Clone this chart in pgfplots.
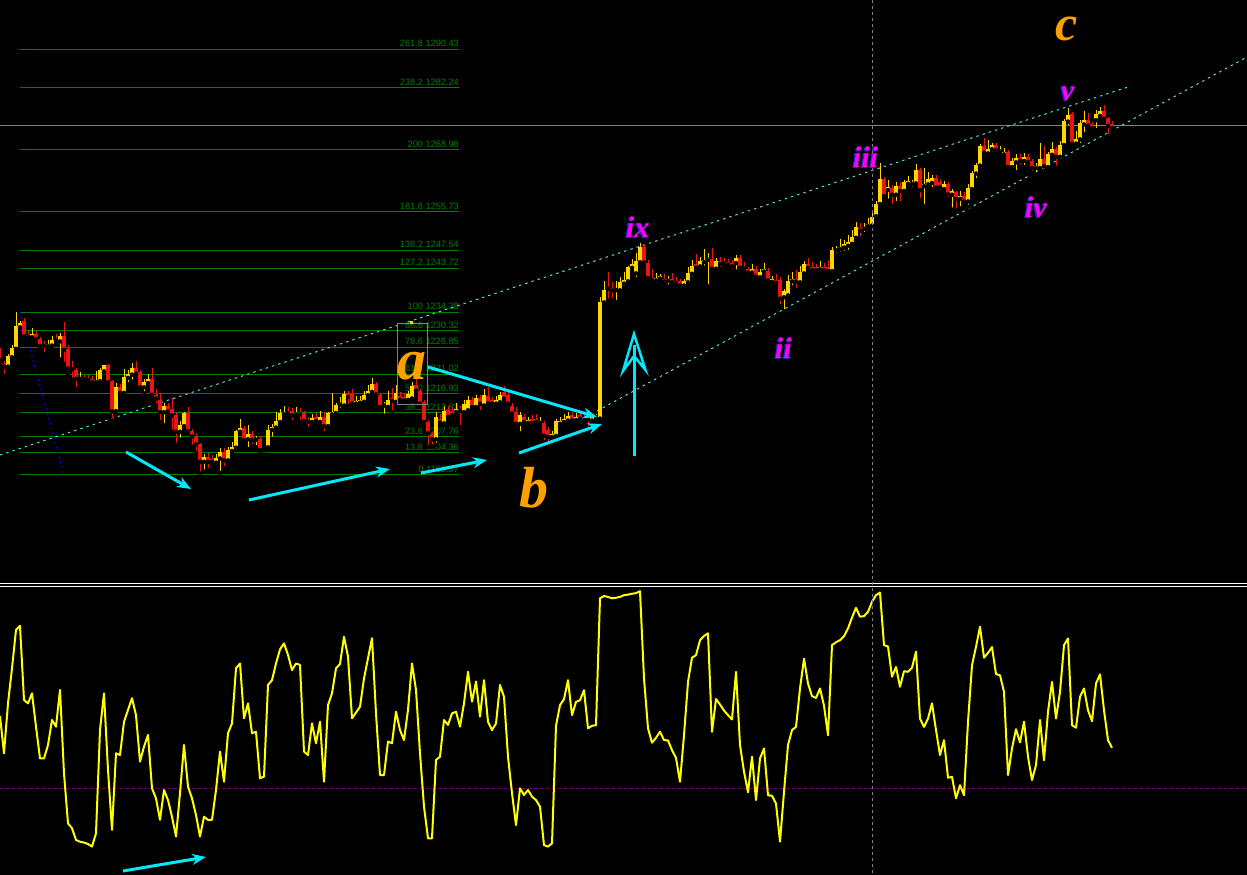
\documentclass[border=0pt]{standalone}
\usepackage{fontspec}
\setmainfont{Liberation Sans}
\newfontfamily\wavefont{Liberation Serif}
\usepackage{pgfplots}
\pgfplotsset{compat=1.18}
\usepackage{pgfplotstable}
\usetikzlibrary{arrows.meta}

\definecolor{fibg}{RGB}{0,128,0}
\definecolor{candY}{RGB}{255,215,0}
\definecolor{candR}{RGB}{235,20,20}
\definecolor{chan}{RGB}{90,220,215}
\definecolor{arr}{RGB}{0,232,250}
\definecolor{wave}{RGB}{255,0,255}
\definecolor{waveS}{RGB}{40,40,200}
\definecolor{orng}{RGB}{255,160,0}
\definecolor{oscY}{RGB}{255,255,0}
\definecolor{lvl}{RGB}{110,0,110}
\definecolor{gry}{RGB}{128,128,128}

\pgfplotstableread{
i o h l c
0 1224.4 1226.7 1223.0 1224.0
1 1223.3 1224.0 1220.7 1222.7
2 1222.7 1225.5 1221.9 1224.9
3 1224.7 1227.3 1224.1 1226.6
4 1226.5 1234.3 1226.3 1231.3
5 1231.1 1232.5 1230.8 1232.0
6 1232.4 1233.0 1228.5 1229.2
7 1229.4 1230.2 1228.4 1229.0
8 1229.0 1231.0 1228.8 1229.7
9 1229.7 1230.4 1227.6 1228.6
10 1228.6 1229.1 1226.5 1227.1
11 1227.3 1228.1 1225.4 1227.1
12 1227.1 1228.3 1226.4 1227.6
13 1227.2 1229.3 1226.5 1228.3
14 1228.6 1229.7 1227.4 1228.3
15 1228.1 1229.8 1224.2 1229.3
16 1229.3 1232.2 1223.3 1226.3
17 1226.5 1227.3 1221.3 1222.3
18 1222.5 1223.8 1219.9 1222.1
19 1222.0 1222.5 1217.9 1220.1
20 1220.1 1221.5 1219.3 1220.5
21 1220.3 1221.0 1219.3 1219.9
22 1220.1 1220.9 1219.2 1219.8
23 1220.0 1220.7 1219.0 1219.4
24 1219.4 1221.7 1219.2 1219.8
25 1219.6 1222.5 1219.3 1221.9
26 1221.7 1223.0 1221.4 1222.95
27 1222.95 1223.2 1219.0 1219.4
28 1219.6 1219.9 1211.2 1213.2
29 1213.2 1219.3 1212.4 1218.3
30 1218.3 1218.9 1216.7 1217.1
31 1217.1 1222.1 1216.9 1220.5
32 1220.3 1222.0 1219.0 1221.2
33 1221.0 1223.4 1219.5 1222.4
34 1222.3 1223.8 1220.8 1221.2
35 1221.5 1222.0 1217.8 1218.3
36 1218.3 1220.1 1217.0 1219.4
37 1219.2 1221.1 1218.4 1220.1
38 1220.0 1222.4 1215.8 1216.7
39 1216.7 1217.9 1214.5 1215.9
40 1215.6 1217.0 1210.9 1213.0
41 1213.0 1215.0 1210.2 1214.2
42 1214.2 1214.9 1212.5 1213.2
43 1213.6 1216.0 1208.8 1212.3
44 1212.3 1213.0 1206.0 1208.8
45 1208.8 1211.0 1207.1 1210.2
46 1210.0 1213.0 1209.5 1212.7
47 1212.7 1214.0 1208.5 1208.9
48 1209.0 1209.4 1205.6 1207.8
49 1207.7 1208.5 1204.3 1206.1
50 1206.1 1206.5 1199.9 1202.4
51 1202.4 1204.0 1200.3 1203.4
52 1203.4 1204.3 1200.6 1202.4
53 1202.9 1203.9 1201.5 1202.4
54 1202.2 1204.1 1201.3 1203.1
55 1203.1 1205.4 1200.0 1204.5
56 1204.5 1205.3 1201.0 1202.7
57 1202.7 1205.5 1202.4 1204.9
58 1204.7 1206.7 1204.4 1205.6
59 1205.4 1209.2 1205.0 1208.9
60 1208.8 1211.5 1208.5 1209.5
61 1209.5 1210.0 1206.3 1207.0
62 1207.2 1210.2 1205.1 1208.3
63 1208.4 1209.0 1205.7 1207.0
64 1207.1 1207.9 1205.5 1207.5
65 1207.3 1207.8 1204.3 1204.9
66 1205.1 1205.2 1204.8 1204.9
67 1205.5 1210.3 1205.2 1209.2
68 1209.2 1210.5 1207.3 1209.8
69 1209.7 1213.0 1209.2 1211.1
70 1210.9 1213.6 1210.4 1212.7
71 1212.5 1214.3 1212.4 1212.9
72 1213.0 1214.0 1212.0 1212.7
73 1213.2 1213.9 1210.8 1212.3
74 1212.5 1214.0 1212.0 1212.9
75 1212.9 1213.9 1210.9 1212.5
76 1212.8 1213.2 1210.3 1211.1
77 1211.4 1212.0 1209.4 1210.9
78 1210.9 1212.5 1210.0 1211.8
79 1212.0 1212.8 1210.6 1211.1
80 1210.9 1213.3 1210.4 1212.0
81 1212.0 1213.0 1208.5 1210.0
82 1210.0 1213.0 1209.8 1212.7
83 1212.5 1217.0 1212.2 1213.0
84 1212.8 1215.0 1212.0 1214.6
85 1214.6 1216.3 1213.5 1214.9
86 1214.4 1217.4 1214.0 1216.8
87 1216.8 1217.6 1214.3 1216.2
88 1216.8 1218.0 1214.5 1214.8
89 1214.8 1216.5 1214.3 1215.3
90 1215.0 1216.5 1214.5 1215.5
91 1215.2 1217.5 1214.9 1216.6
92 1216.6 1218.7 1216.2 1217.5
93 1217.3 1220.2 1217.0 1218.9
94 1218.9 1219.4 1216.4 1216.8
95 1216.6 1217.0 1213.6 1214.1
96 1214.4 1215.2 1212.2 1214.8
97 1214.1 1217.6 1213.7 1215.5
98 1216.1 1218.1 1213.0 1215.4
99 1215.2 1218.7 1214.8 1217.1
100 1216.35 1217.2 1214.8 1215.65
101 1216.2 1217.0 1214.9 1215.5
102 1215.6 1217.5 1215.2 1216.8
103 1215.9 1219.5 1215.5 1218.6
104 1218.7 1220.6 1216.8 1217.6
105 1217.6 1218.0 1214.1 1214.8
106 1215.2 1215.6 1210.2 1210.9
107 1210.9 1211.3 1205.6 1208.5
108 1208.3 1208.7 1205.6 1207.2
109 1207.2 1213.0 1206.0 1212.0
110 1211.6 1212.5 1210.0 1210.8
111 1210.6 1214.2 1210.2 1213.3
112 1213.4 1214.2 1211.2 1212.0
113 1213.2 1214.0 1211.5 1212.3
114 1213.0 1215.0 1212.5 1213.7
115 1213.7 1214.3 1209.8 1213.3
116 1213.0 1215.5 1212.5 1214.8
117 1213.4 1216.5 1213.0 1215.6
118 1215.5 1216.3 1213.5 1214.1
119 1214.1 1216.7 1213.5 1215.9
120 1215.9 1216.7 1213.0 1214.8
121 1214.4 1218.0 1213.9 1216.6
122 1216.35 1218.3 1214.2 1214.9
123 1215.5 1216.2 1214.3 1214.8
124 1214.8 1216.5 1214.2 1215.5
125 1215.1 1217.2 1214.5 1216.6
126 1217.3 1218.6 1215.1 1215.9
127 1216.6 1217.3 1214.0 1214.8
128 1214.4 1215.0 1212.0 1212.7
129 1213.0 1214.0 1209.8 1210.5
130 1210.5 1213.0 1208.5 1212.3
131 1211.9 1212.6 1210.0 1210.9
132 1210.7 1212.0 1210.0 1211.4
133 1211.6 1212.3 1209.9 1210.7
134 1211.6 1212.5 1210.3 1210.9
135 1210.7 1212.0 1210.0 1211.2
136 1210.7 1211.2 1206.6 1208.0
137 1209.1 1209.8 1206.2 1207.7
138 1207.7 1209.0 1206.8 1208.4
139 1207.9 1211.6 1207.6 1211.0
140 1210.5 1212.0 1210.0 1211.1
141 1210.9 1212.6 1210.4 1211.6
142 1211.2 1213.0 1210.7 1212.1
143 1212.3 1213.0 1210.5 1211.2
144 1211.3 1212.8 1210.6 1212.0
145 1212.3 1212.9 1211.0 1211.6
146 1212.0 1212.6 1210.7 1211.5
147 1211.8 1212.4 1209.5 1211.5
148 1211.2 1212.5 1210.8 1211.9
149 1211.9 1212.6 1211.3 1212.1
150 1211.6 1237.5 1211.0 1236.4
151 1236.4 1241.0 1236.0 1239.1
152 1239.8 1243.0 1236.8 1239.3
153 1239.4 1240.8 1236.8 1239.0
154 1239.0 1241.0 1236.5 1239.2
155 1239.0 1241.9 1238.2 1240.7
156 1240.4 1243.0 1239.5 1241.2
157 1240.9 1244.2 1240.5 1243.9
158 1243.8 1245.6 1243.0 1244.6
159 1242.6 1247.0 1241.4 1245.2
160 1245.0 1249.1 1244.4 1248.2
161 1248.2 1248.8 1244.0 1244.9
162 1244.8 1245.5 1240.9 1241.6
163 1241.7 1243.5 1240.5 1241.2
164 1241.1 1242.6 1240.2 1241.6
165 1241.5 1242.5 1240.8 1242.0
166 1241.5 1242.4 1240.4 1240.9
167 1241.0 1242.0 1239.8 1241.4
168 1241.4 1242.6 1240.1 1240.7
169 1240.9 1241.9 1239.8 1240.5
170 1240.9 1241.4 1239.0 1240.0
171 1240.0 1241.5 1239.5 1240.9
172 1240.7 1244.0 1240.3 1242.6
173 1242.5 1245.5 1241.5 1244.1
174 1244.6 1246.7 1243.1 1243.8
175 1244.1 1246.1 1243.3 1245.2
176 1245.0 1247.7 1243.8 1245.5
177 1245.5 1247.0 1239.8 1245.9
178 1245.7 1248.0 1243.0 1243.6
179 1243.6 1245.8 1243.0 1245.2
180 1245.2 1246.0 1243.5 1244.6
181 1245.1 1245.8 1244.0 1244.7
182 1245.0 1245.6 1243.9 1244.5
183 1244.8 1245.5 1243.0 1244.1
184 1244.8 1246.6 1243.0 1245.9
185 1245.9 1246.5 1243.0 1243.8
186 1244.0 1245.0 1242.8 1243.6
187 1243.5 1244.0 1241.8 1242.8
188 1242.8 1244.5 1242.3 1243.6
189 1243.6 1244.2 1241.5 1241.9
190 1241.8 1243.5 1241.0 1243.0
191 1243.0 1244.8 1242.0 1243.5
192 1243.2 1243.7 1240.6 1241.1
193 1240.8 1242.0 1240.0 1241.3
194 1241.1 1242.5 1240.0 1240.6
195 1241.1 1241.8 1235.6 1237.2
196 1237.5 1239.3 1234.5 1238.8
197 1237.9 1242.2 1237.2 1240.9
198 1240.9 1243.0 1239.6 1241.3
199 1241.3 1243.4 1239.0 1240.8
200 1240.7 1244.1 1240.0 1242.8
201 1242.6 1245.2 1241.7 1244.7
202 1244.7 1245.9 1242.9 1243.8
203 1244.0 1245.0 1242.3 1243.3
204 1243.9 1244.6 1242.5 1243.3
205 1243.5 1245.3 1243.0 1244.0
206 1244.0 1244.9 1242.6 1243.3
207 1244.0 1245.5 1242.3 1243.1
208 1243.1 1248.2 1242.5 1247.6
209 1247.5 1248.5 1246.5 1247.8
210 1247.8 1250.0 1246.8 1248.3
211 1248.1 1249.8 1247.0 1248.8
212 1248.5 1250.8 1247.2 1249.4
213 1248.9 1251.8 1248.0 1250.4
214 1250.2 1253.5 1249.6 1252.4
215 1252.3 1253.4 1250.1 1251.7
216 1252.1 1253.4 1251.0 1252.6
217 1252.7 1254.5 1252.0 1253.2
218 1252.8 1255.7 1252.4 1254.7
219 1254.8 1258.0 1254.4 1257.5
220 1257.4 1266.1 1257.0 1262.7
221 1262.7 1263.1 1258.7 1259.1
222 1260.4 1262.5 1258.1 1261.1
223 1260.9 1261.5 1257.0 1259.4
224 1259.4 1262.2 1257.6 1261.3
225 1261.3 1262.2 1257.5 1260.2
226 1260.2 1262.5 1259.3 1262.0
227 1261.7 1263.4 1260.8 1262.4
228 1261.7 1262.6 1260.7 1262.1
229 1261.8 1266.0 1261.5 1264.6
230 1264.6 1265.0 1258.2 1260.4
231 1261.2 1265.0 1256.9 1261.6
232 1261.6 1264.2 1260.8 1262.7
233 1261.9 1263.5 1260.6 1263.0
234 1262.9 1263.5 1260.0 1260.9
235 1262.0 1262.8 1260.0 1261.0
236 1260.6 1262.3 1259.9 1261.7
237 1261.7 1262.0 1258.4 1259.5
238 1259.4 1260.6 1256.2 1260.1
239 1259.9 1260.2 1256.0 1258.5
240 1258.5 1260.1 1256.5 1259.2
241 1259.2 1260.0 1257.2 1257.9
242 1257.95 1261.6 1256.8 1260.8
243 1260.6 1264.5 1259.7 1264.1
244 1263.9 1266.2 1262.5 1265.8
245 1265.6 1270.2 1265.0 1269.8
246 1269.8 1271.5 1267.5 1268.4
247 1268.2 1271.0 1267.6 1269.1
248 1269.1 1270.5 1268.2 1270.0
249 1270.0 1270.5 1268.0 1268.9
250 1268.6 1269.8 1268.0 1268.9
251 1268.0 1269.4 1267.5 1268.6
252 1268.6 1269.0 1264.9 1265.3
253 1265.3 1267.2 1264.6 1266.5
254 1266.3 1268.1 1264.2 1267.3
255 1267.3 1268.0 1265.4 1266.6
256 1266.6 1268.2 1265.3 1267.4
257 1267.4 1268.0 1265.5 1266.3
258 1266.5 1267.0 1264.0 1265.1
259 1265.1 1266.1 1263.8 1265.5
260 1265.1 1270.5 1264.5 1267.0
261 1267.0 1269.8 1264.5 1265.5
262 1265.3 1268.4 1264.8 1268.0
263 1267.9 1270.6 1267.5 1269.1
264 1269.1 1269.5 1265.1 1267.5
265 1267.5 1270.8 1266.6 1270.0
266 1270.0 1275.5 1269.5 1275.1
267 1275.0 1278.0 1273.7 1276.4
268 1276.6 1277.0 1269.5 1270.3
269 1270.3 1273.0 1270.0 1271.2
270 1271.2 1275.4 1270.0 1274.6
271 1274.4 1277.2 1272.3 1275.3
272 1275.3 1276.9 1273.9 1274.1
273 1274.4 1275.0 1273.0 1273.6
274 1275.3 1277.5 1273.2 1276.6
275 1276.2 1278.2 1275.7 1277.3
276 1277.3 1278.5 1275.0 1275.6
277 1275.7 1276.0 1271.9 1274.1
278 1274.4 1275.2 1273.2 1273.6
}\candles

\pgfplotstableread{
i v
0 55.4
1 42.4
2 59.8
3 72.0
4 85.4
5 86.8
6 61.0
7 59.8
8 63.3
9 51.7
10 40.6
11 40.6
12 45.3
13 54.0
14 51.7
15 64.5
16 35.4
17 18.0
18 16.3
19 12.2
20 11.6
21 11.3
22 10.8
23 9.9
24 14.5
25 50.5
26 63.3
27 36.6
28 15.7
29 42.4
30 41.8
31 53.4
32 57.5
33 61.6
34 55.7
35 39.5
36 44.7
37 48.8
38 30.2
39 26.7
40 19.2
41 29.6
42 26.1
43 20.3
44 13.4
45 28.5
46 45.3
47 30.8
48 26.7
49 20.9
50 13.4
51 20.3
52 19.2
53 19.2
54 29.6
55 43.0
56 32.5
57 49.4
58 52.8
59 72.0
60 73.7
61 54.6
62 59.8
63 49.4
64 49.9
65 33.7
66 34.3
67 66.2
68 67.9
69 73.7
70 78.6
71 80.7
72 76.7
73 71.4
74 73.7
75 73.2
76 43.0
77 41.8
78 52.8
79 45.9
80 53.4
81 32.5
82 59.2
83 63.3
84 72.0
85 73.5
86 83.0
87 76.1
88 54.6
89 56.6
90 58.6
91 68.5
92 75.5
93 82.5
94 56.3
95 34.8
96 34.8
97 46.5
98 45.9
99 56.9
100 50.5
101 47.0
102 57.5
103 73.7
104 64.5
105 42.4
106 23.8
107 12.8
108 12.8
109 40.1
110 41.2
111 54.0
112 52.3
113 56.3
114 56.9
115 51.7
116 59.8
117 70.8
118 60.4
119 67.4
120 55.2
121 67.9
122 53.4
123 50.5
124 52.8
125 66.2
126 62.1
127 41.2
128 28.5
129 17.4
130 30.2
131 27.9
132 29.6
133 27.3
134 26.1
135 23.8
136 10.4
137 9.9
138 11.0
139 52.0
140 59.2
141 61.3
142 67.9
143 55.7
144 60.3
145 60.9
146 64.4
147 51.1
148 52.0
149 52.2
150 96.4
151 97.2
152 96.9
153 96.4
154 96.6
155 96.9
156 97.5
157 97.7
158 98.0
159 98.2
160 98.9
161 68.5
162 51.1
163 46.1
164 47.8
165 49.9
166 47.0
167 46.9
168 43.5
169 40.8
170 32.5
171 48.7
172 67.3
173 75.7
174 76.6
175 81.8
176 83.3
177 84.2
178 49.9
179 61.3
180 59.4
181 57.3
182 55.7
183 54.2
184 70.8
185 45.3
186 36.0
187 28.8
188 41.2
189 26.1
190 40.6
191 44.1
192 27.8
193 27.6
194 24.9
195 11.6
196 29.0
197 45.3
198 50.5
199 51.6
200 65.0
201 75.4
202 66.7
203 62.3
204 61.7
205 65.0
206 59.0
207 48.7
208 80.1
209 81.1
210 81.8
211 83.2
212 85.9
213 89.7
214 93.1
215 90.0
216 90.2
217 91.7
218 95.2
219 97.5
220 98.4
221 80.1
222 79.6
223 69.1
224 72.5
225 65.6
226 71.0
227 70.8
228 72.2
229 77.8
230 54.5
231 51.6
232 54.5
233 59.8
234 50.5
235 41.8
236 47.0
237 33.9
238 34.2
239 26.7
240 31.3
241 27.8
242 53.4
243 73.1
244 79.5
245 86.5
246 75.7
247 77.4
248 79.4
249 70.0
250 69.6
251 63.8
252 34.8
253 44.1
254 50.8
255 46.2
256 53.4
257 41.2
258 33.1
259 38.3
260 54.0
261 40.0
262 56.9
263 67.3
264 54.5
265 63.8
266 80.1
267 82.4
268 52.2
269 51.3
270 62.1
271 65.0
272 57.4
273 53.6
274 66.7
275 69.9
276 57.4
277 47.0
278 44.3
}\osc

\tikzset{fiblab/.style={anchor=base east, inner sep=0pt, yshift=2.5pt, text=fibg, font=\fontsize{9.2}{10}\selectfont}}

\begin{document}
\begin{tikzpicture}
\useasboundingbox (0,0) rectangle (1247pt,875pt);
\fill[black] (0,0) rectangle (1247pt,875pt);

% ---------- price panel ----------
\begin{axis}[at={(0pt,292pt)}, anchor=south west, width=1247pt, height=583pt,
  scale only axis, hide axis, xmin=0, xmax=1247, ymin=1176.52, ymax=1300.95]
\addplot[gry, line width=1pt, forget plot] coordinates {(0,1274.06) (1247,1274.06)};
\pgfplotsinvokeforeach{1290.43,1282.24,1268.98,1255.73,1247.54,1243.72,1234.28,1230.32,1226.85,1221.02,1216.93,1212.83,1207.76,1204.36,1199.57}{
  \addplot[fibg, line width=1pt, forget plot] coordinates {(20,#1) (459,#1)};
}
\node[fiblab] at (axis cs:459,1290.43) {261.8 1290.43};
\node[fiblab] at (axis cs:459,1282.24) {238.2 1282.24};
\node[fiblab] at (axis cs:459,1268.98) {200 1268.98};
\node[fiblab] at (axis cs:459,1255.73) {161.8 1255.73};
\node[fiblab] at (axis cs:459,1247.54) {138.2 1247.54};
\node[fiblab] at (axis cs:459,1243.72) {127.2 1243.72};
\node[fiblab] at (axis cs:459,1234.28) {100 1234.28};
\node[fiblab] at (axis cs:459,1230.32) {88.6 1230.32};
\node[fiblab] at (axis cs:459,1226.85) {78.6 1226.85};
\node[fiblab] at (axis cs:459,1221.02) {61.8 1221.02};
\node[fiblab] at (axis cs:459,1216.93) {50.0 1216.93};
\node[fiblab] at (axis cs:459,1212.83) {38.2 1212.83};
\node[fiblab] at (axis cs:459,1207.76) {23.6 1207.76};
\node[fiblab] at (axis cs:459,1204.36) {13.8 1204.36};
\node[fiblab] at (axis cs:459,1199.57) {0 1199.57};
% channel and guide lines
\addplot[chan, line width=1pt, dash pattern=on 2.5pt off 4pt, forget plot] coordinates {(0,1203.83) (1128,1282.38)};
\addplot[chan, line width=1pt, dash pattern=on 2.5pt off 4pt, forget plot] coordinates {(597,1213.23) (1247,1288.78)};
\addplot[blue, line width=1pt, dash pattern=on 2pt off 3pt, forget plot] coordinates {(20,1234.42) (64,1199.57)};
% wicks
\addplot[only marks, mark=none, forget plot,
  restrict expr to domain={\thisrow{c}-\thisrow{o}}{0:1000},
  error bars/.cd, y dir=plus, y explicit, error mark=none,
  error bar style={line width=1pt, draw=candY, solid}]
  table[x expr=4*\thisrow{i}, y=l, y error plus expr=\thisrow{h}-\thisrow{l}] {\candles};
\addplot[only marks, mark=none, forget plot,
  restrict expr to domain={\thisrow{c}-\thisrow{o}}{-1000:-0.001},
  error bars/.cd, y dir=plus, y explicit, error mark=none,
  error bar style={line width=1pt, draw=candR, solid}]
  table[x expr=4*\thisrow{i}, y=l, y error plus expr=\thisrow{h}-\thisrow{l}] {\candles};
% bodies
\addplot[only marks, mark=none, forget plot,
  restrict expr to domain={\thisrow{c}-\thisrow{o}}{0:1000},
  error bars/.cd, y dir=plus, y explicit, error mark=none,
  error bar style={line width=3.3pt, draw=candY, solid}]
  table[x expr=4*\thisrow{i}, y expr={min(\thisrow{o},\thisrow{c})},
        y error plus expr={max(abs(\thisrow{c}-\thisrow{o}),0.25)}] {\candles};
\addplot[only marks, mark=none, forget plot,
  restrict expr to domain={\thisrow{c}-\thisrow{o}}{-1000:-0.001},
  error bars/.cd, y dir=plus, y explicit, error mark=none,
  error bar style={line width=3.3pt, draw=candR, solid}]
  table[x expr=4*\thisrow{i}, y expr={min(\thisrow{o},\thisrow{c})},
        y error plus expr={max(abs(\thisrow{c}-\thisrow{o}),0.25)}] {\candles};
\end{axis}

% ---------- oscillator panel ----------
\begin{axis}[at={(0pt,0pt)}, anchor=south west, width=1247pt, height=287pt,
  scale only axis, hide axis, xmin=0, xmax=1247, ymin=0, ymax=100]
\addplot[lvl, line width=1pt, dash pattern=on 3pt off 3pt, forget plot] coordinates {(0,30) (1247,30)};
\addplot[oscY, line width=2pt, line join=round, forget plot] table[x expr=4*\thisrow{i}, y=v] {\osc};
\end{axis}

% ---------- annotations (pixel frame) ----------
\begin{scope}[x=1pt, y=-1pt, yshift=875pt]
\draw[white, line width=1pt] (0,584) -- (1247,584);
\draw[white, line width=1pt] (0,586.5) -- (1247,586.5);
\draw[gry, line width=1pt, dash pattern=on 3pt off 3pt] (872,0) -- (872,875);
\draw[gry, line width=1pt] (397,324) rectangle (427,405);
\fill[candY] (409.5,321) rectangle (413,324.5);
% cyan arrows
\tikzset{ca/.style={arr, line width=3pt, -{Stealth[length=14pt, width=11pt]}}}
\draw[ca] (126,452) -- (191,489);
\draw[ca] (249,500) -- (390,469);
\draw[ca] (421,473) -- (487,460);
\draw[ca] (428,367) -- (597,417);
\draw[ca] (519,453) -- (602,424);
\draw[ca] (123,871) -- (206,857);
\draw[arr, line width=3pt] (634,456) -- (634,345);
\draw[arr, line width=2.5pt, line join=miter] (623,371) -- (634,334) -- (645.5,370) -- (634,356) -- cycle;
% wave labels
\begin{scope}[every node/.style={anchor=base west, inner sep=0pt, text depth=0pt}]
\node[text=orng, text height=28pt, font=\wavefont\bfseries\itshape\fontsize{58}{60}\selectfont] at (397,380) {a};
\node[text=orng, text height=40pt, font=\wavefont\bfseries\itshape\fontsize{58}{60}\selectfont] at (519,508) {b};
\node[text=orng, text height=24pt, font=\wavefont\bfseries\itshape\fontsize{50}{52}\selectfont] at (1055,41) {c};
\foreach \px/\py/\t in {626/238/ix, 853/168/iii, 775/359/ii, 1025/218/iv, 1061/101/v}{
  \node[text=waveS, font=\wavefont\bfseries\itshape\fontsize{30}{32}\selectfont] at (\px-1.5,\py+0.5) {\t};
  \node[text=wave, font=\wavefont\bfseries\itshape\fontsize{30}{32}\selectfont] at (\px,\py) {\t};
}
\end{scope}
\end{scope}
\end{tikzpicture}
\end{document}
